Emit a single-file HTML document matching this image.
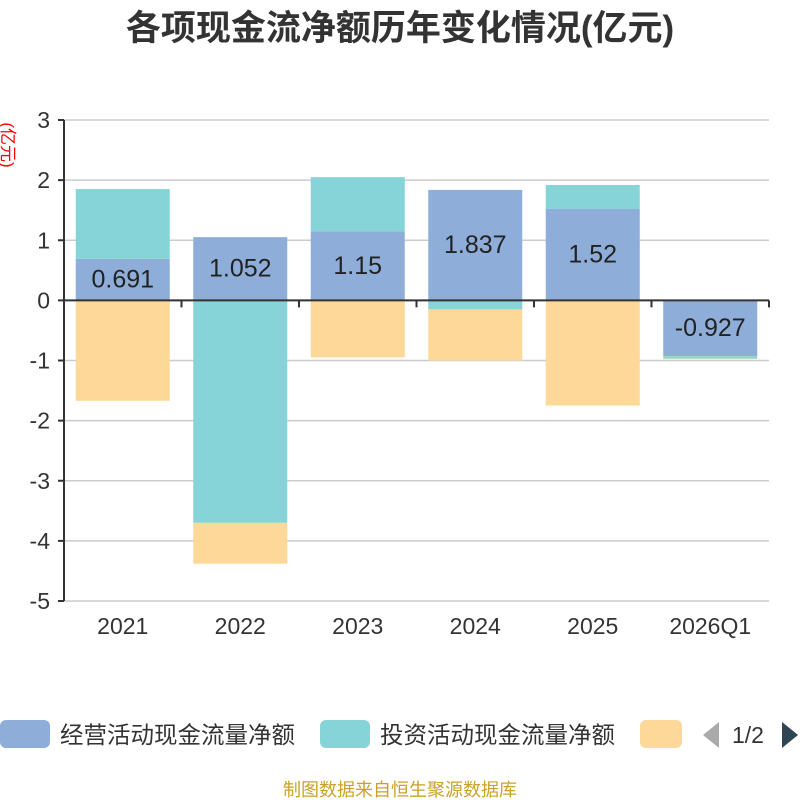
<!DOCTYPE html>
<html><head><meta charset="utf-8"><style>
body{margin:0;background:#fff;font-family:"Liberation Sans","Noto Sans CJK SC",sans-serif}
</style></head><body>
<svg id="c" width="800" height="800" xmlns="http://www.w3.org/2000/svg" font-family="Liberation Sans, Noto Sans CJK SC, sans-serif">
<text x="400" y="40" text-anchor="middle" font-size="35" font-weight="bold" fill="#333">各项现金流净额历年变化情况(亿元)</text>
<text transform="translate(2,145) rotate(90)" text-anchor="middle" font-size="17" fill="red">(亿元)</text>
<g id="grid"></g><g id="bars"></g><g id="axes"></g><g id="labels"></g>
<g>
<rect x="0" y="720" width="50" height="28" rx="6" fill="#8eaed9"/>
<text x="60" y="743" font-size="23.5" fill="#333">经营活动现金流量净额</text>
<rect x="320" y="720" width="50" height="28" rx="6" fill="#87d4d8"/>
<text x="380" y="743" font-size="23.5" fill="#333">投资活动现金流量净额</text>
<rect x="640" y="720" width="42" height="28" rx="6" fill="#fdd898"/>
<polygon points="719,722 719,748 703,735" fill="#aaa"/>
<text x="732" y="743" font-size="23" fill="#333">1/2</text>
<polygon points="782,722 782,748 798,735" fill="#2f4554"/>
</g>
<text x="400" y="796" text-anchor="middle" font-size="18" fill="#c9a227">制图数据来自恒生聚源数据库</text>
</svg>
<script>
const categories=["2021","2022","2023","2024","2025","2026Q1"];
const operating=[0.691,1.052,1.15,1.837,1.52,-0.927];
const investing=[1.16,-3.7,0.9,-0.15,0.4,-0.04];
const financing=[-1.67,-0.68,-0.95,-0.85,-1.75,-0.01];
const yTicks=[3,2,1,0,-1,-2,-3,-4,-5];
const NS="http://www.w3.org/2000/svg";
const x0=64,x1=769,yTop=120,yBot=601,ymax=3,ymin=-5;
const y=v=>yTop+(ymax-v)/(ymax-ymin)*(yBot-yTop);
const bw=(x1-x0)/categories.length;
function mk(t,a,p){const e=document.createElementNS(NS,t);for(const k in a)e.setAttribute(k,a[k]);p.appendChild(e);return e;}
const grid=document.getElementById('grid'),axes=document.getElementById('axes'),bars=document.getElementById('bars'),labels=document.getElementById('labels');
yTicks.forEach(v=>{
 if(v!==0){const l=mk('line',{x1:x0,x2:x1,y1:y(v),y2:y(v),stroke:'#ccc','stroke-width':1.5},grid);
 
 }
 const tk=mk('line',{x1:x0-6,x2:x0,y1:y(v),y2:y(v),stroke:'#333','stroke-width':2},axes);
 
 
 const t=mk('text',{x:x0-14,y:y(v)+8,'text-anchor':'end','font-size':23,fill:'#333'},axes);
 t.textContent=v;
 
 
});
const ya=mk('line',{x1:x0,x2:x0,y1:yTop,y2:yBot,stroke:'#333','stroke-width':2},axes);


const xa=mk('line',{x1:x0,x2:x1,y1:y(0),y2:y(0),stroke:'#333','stroke-width':2},axes);


for(let i=0;i<=categories.length;i++){
 const tk=mk('line',{x1:x0+i*bw,x2:x0+i*bw,y1:y(0),y2:y(0)+7,stroke:'#333','stroke-width':2},axes);
 
 
}
const series=[[operating,'#8eaed9','operating'],[investing,'#87d4d8','investing'],[financing,'#fdd898','financing']];
categories.forEach((c,i)=>{
 let pos=0,neg=0;const bx=x0+i*bw+bw*0.1,w=bw*0.8;
 series.forEach(([arr,col,nm])=>{
  const v=arr[i];let a,b;
  if(v>=0){a=pos;b=pos+v;pos=b;}else{a=neg;b=neg+v;neg=b;}
  const r=mk('rect',{x:bx,y:Math.min(y(a),y(b)),width:w,height:Math.abs(y(a)-y(b)),fill:col},bars);
  
  
 });
 const v=operating[i];
 const t=mk('text',{x:bx+w/2,y:y(v/2)+8,'text-anchor':'middle','font-size':25,fill:'#222'},labels);
 t.textContent=v;
 
 
 const xl=mk('text',{x:x0+(i+0.5)*bw,y:634,'text-anchor':'middle','font-size':23,fill:'#333'},axes);
 xl.textContent=c;
 
 
});
</script>
</body></html>
